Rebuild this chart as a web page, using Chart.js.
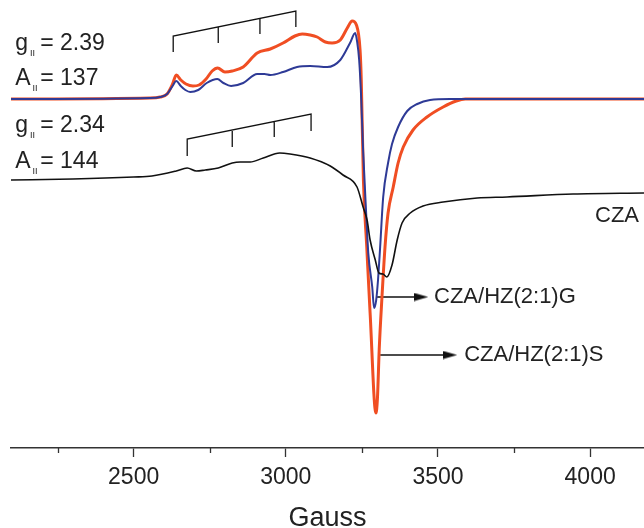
<!DOCTYPE html>
<html>
<head>
<meta charset="utf-8">
<script src="https://cdn.jsdelivr.net/npm/chart.js@4.4.0/dist/chart.umd.min.js"></script>
<style>
html, body { margin: 0; padding: 0; background: #fff; }
</style>
</head>
<body>
<canvas id="myChart" width="644" height="528"></canvas>
<script>
// Eje X (Gauss)
const xMin = 2097;
const xMax = 4177;
const majorTicks = [2500, 3000, 3500, 4000];
const minorTicks = [2250, 2750, 3250, 3750];

// Espectro CZA/HZ(2:1)S (rojo), unidades arbitrarias
const gaussS = [2097, 2554, 2587, 2610, 2628, 2640, 2655, 2672, 2695, 2715, 2738, 2758, 2776, 2800, 2824, 2860, 2906, 2949, 2991, 3030, 3054, 3080, 3103, 3130, 3152, 3179, 3202, 3218, 3232, 3244, 3248, 3255, 3266, 3277, 3296, 3301, 3307, 3316, 3326, 3336, 3353, 3369, 3386, 3418, 3464, 3517, 3560, 3590, 4177];
const signalS = [0, 1, 2, 5, 15, 24, 19, 15, 13, 14, 20, 28, 31, 27, 28, 32, 46, 50, 56, 63, 65, 64, 62, 57, 56, 59, 71, 78, 74, 49, 19, -81, -148, -214, -314, -300, -250, -198, -148, -114, -88, -64, -48, -31, -18, -8, -2, 0, 0];

// Espectro CZA/HZ(2:1)G (azul)
const gaussG = [2097, 2554, 2587, 2610, 2628, 2640, 2655, 2670, 2686, 2712, 2740, 2775, 2795, 2820, 2860, 2906, 2930, 2949, 2991, 3037, 3080, 3136, 3179, 3211, 3228, 3234, 3241, 3248, 3254, 3264, 3271, 3284, 3290, 3297, 3303, 3310, 3320, 3336, 3349, 3369, 3399, 3432, 3474, 3540, 4177];
const signalG = [0, 1, 2, 5, 13, 18, 13, 9, 7, 9, 16, 20, 16, 13, 16, 25, 25, 24, 27, 32, 33, 32, 39, 56, 66, 58, 39, -1, -51, -114, -154, -188, -209, -201, -181, -148, -98, -64, -45, -28, -12, -5, -1, 0, 0];

// Espectro CZA (negro)
const gaussC = [2097, 2300, 2500, 2560, 2640, 2676, 2706, 2735, 2778, 2824, 2850, 2883, 2926, 2980, 3014, 3080, 3146, 3188, 3234, 3254, 3267, 3277, 3294, 3306, 3319, 3332, 3349, 3366, 3382, 3409, 3451, 3517, 3629, 3727, 3944, 4177];
const signalC = [-81, -80, -78, -77, -72, -69, -72, -71, -69, -64, -63, -63, -59, -54, -55, -59, -67, -76, -88, -108, -121, -141, -161, -174, -175, -178, -166, -141, -124, -114, -107, -103, -99, -98, -95, -94];

// Marcas de estructura hiperfina
const hfTopX = [2630, 2778, 2915, 3033];
const hfTopHigh = [63, 72, 81, 88];
const hfTopLow = [47, 56, 65, 72];
const hfBotX = [2676, 2824, 2962, 3083];
const hfBotHigh = [-40, -32, -23, -15];
const hfBotLow = [-57, -48, -38, -32];

// Flechas y etiquetas
const arrowStart = [3300, 3310];
const arrowHead = [3445, 3540];
const arrowY = [-198, -256];
const seriesNames = ['CZA/HZ(2:1)G', 'CZA/HZ(2:1)S', 'CZA'];
const nameX = [3487, 3586, 4016];
const nameY = [-198, -256, -117];

// Parámetros g y A
const paramSymbol = ['g', 'A', 'g', 'A'];
const paramValue = ['2.39', '137', '2.34', '144'];
const paramX = 2111;
const paramY = [49, 14, -33, -69];

const toPoints = (xs, ys) => xs.map((x, i) => ({ x: x, y: ys[i] }));

function bracketPoints(xs, hi, lo) {
    const pts = [{ x: xs[0], y: lo[0] }, { x: xs[0], y: hi[0] }, { x: xs[xs.length - 1], y: hi[hi.length - 1] }, { x: xs[xs.length - 1], y: lo[lo.length - 1] }];
    for (let i = 1; i < xs.length - 1; i++) {
        pts.push({ x: xs[i], y: null });
        pts.push({ x: xs[i], y: hi[i] });
        pts.push({ x: xs[i], y: lo[i] });
    }
    return pts;
}

// punta de flecha
const head = document.createElement('canvas');
head.width = 14;
head.height = 9;
const hctx = head.getContext('2d');
hctx.fillStyle = '#111';
hctx.beginPath();
hctx.moveTo(0, 0.5);
hctx.lineTo(14, 4.5);
hctx.lineTo(0, 8.5);
hctx.closePath();
hctx.fill();

const lineDs = (data, color, width) => ({
    data: data,
    borderColor: color,
    borderWidth: width,
    pointRadius: 0,
    fill: false,
    cubicInterpolationMode: 'monotone',
    spanGaps: false
});

const datasets = [
    lineDs(toPoints(gaussC, signalC), '#111111', 1.6),
    lineDs(toPoints(gaussG, signalG), '#2E3A96', 2),
    lineDs(toPoints(gaussS, signalS), '#F04E23', 3),
    Object.assign(lineDs(bracketPoints(hfTopX, hfTopHigh, hfTopLow), '#111', 1.3), { cubicInterpolationMode: 'default', tension: 0 }),
    Object.assign(lineDs(bracketPoints(hfBotX, hfBotHigh, hfBotLow), '#111', 1.3), { cubicInterpolationMode: 'default', tension: 0 })
];
arrowStart.forEach((s, i) => {
    datasets.push({
        data: [{ x: s, y: arrowY[i] }, { x: arrowHead[i], y: arrowY[i] }],
        borderColor: '#111',
        borderWidth: 1.3,
        pointRadius: [0, 7],
        pointStyle: head,
        tension: 0
    });
});

// Textos y marcas menores
const annotations = {
    id: 'annotations',
    afterDraw(chart) {
        const ctx = chart.ctx;
        const xs = chart.scales.x;
        const ys = chart.scales.y;
        ctx.save();
        ctx.fillStyle = '#222';
        ctx.textBaseline = 'middle';
        ctx.textAlign = 'left';
        ctx.font = '22px "Liberation Sans", Arial, sans-serif';
        seriesNames.forEach((n, i) => {
            ctx.fillText(n, xs.getPixelForValue(nameX[i]), ys.getPixelForValue(nameY[i]));
        });
        ctx.textBaseline = 'alphabetic';
        paramSymbol.forEach((s, i) => {
            const x0 = xs.getPixelForValue(paramX);
            const y0 = ys.getPixelForValue(paramY[i]);
            ctx.font = '23px "Liberation Sans", Arial, sans-serif';
            ctx.fillText(s, x0, y0);
            const w = ctx.measureText(s).width;
            ctx.fillText('= ' + paramValue[i], x0 + 25, y0);
            ctx.font = '9px "Liberation Sans", Arial, sans-serif';
            ctx.fillText('II', x0 + w + 2, y0 + 6);
        });
        // marcas menores del eje
        ctx.strokeStyle = '#333';
        ctx.lineWidth = 1.3;
        minorTicks.forEach(v => {
            const px = Math.round(xs.getPixelForValue(v)) + 0.5;
            ctx.beginPath();
            ctx.moveTo(px, xs.top);
            ctx.lineTo(px, xs.top + 5);
            ctx.stroke();
        });
        ctx.restore();
    }
};

new Chart('myChart', {
    type: 'line',
    data: { datasets: datasets },
    options: {
        responsive: false,
        animation: false,
        layout: { autoPadding: false, padding: { left: 11, right: 0, top: 0, bottom: 0 } },
        plugins: { legend: { display: false }, tooltip: { enabled: false } },
        scales: {
            x: {
                type: 'linear',
                min: xMin,
                max: xMax,
                afterBuildTicks: axis => { axis.ticks = majorTicks.map(v => ({ value: v })); },
                afterFit: axis => { axis.paddingLeft = 0; axis.paddingRight = 0; axis.height = 80; },
                border: { display: true, color: '#333', width: 1.5 },
                grid: { display: true, drawOnChartArea: false, drawTicks: true, tickLength: 9, tickColor: '#333', tickWidth: 1.3 },
                ticks: { color: '#222', font: { family: '"Liberation Sans", Arial', size: 23 }, padding: 7, maxRotation: 0, autoSkip: false, callback: v => String(v) },
                title: { display: true, text: 'Gauss', color: '#222', font: { family: '"Liberation Sans", Arial', size: 27, lineHeight: 1 }, padding: { top: 4, bottom: -4 } }
            },
            y: { display: false, min: -349, max: 99 }
        }
    },
    plugins: [annotations]
});
</script>
</body>
</html>
